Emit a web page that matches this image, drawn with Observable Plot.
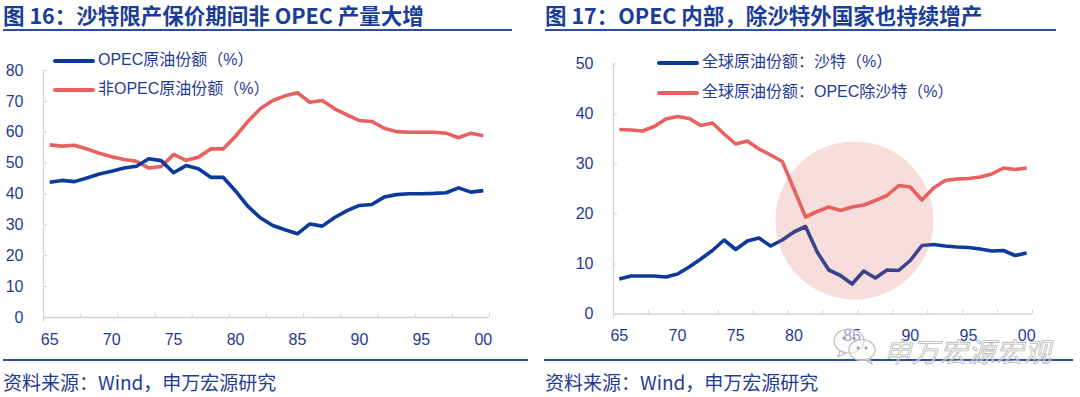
<!DOCTYPE html>
<html>
<head>
<meta charset="utf-8">
<script src="https://cdn.jsdelivr.net/npm/d3@7"></script>
<script src="https://cdn.jsdelivr.net/npm/@observablehq/plot@0.6"></script>
<style>
  html, body { margin: 0; padding: 0; background: #fff; }
  body { width: 1080px; height: 397px; position: relative; overflow: hidden;
         font-family: "Liberation Sans", "Noto Sans CJK SC", sans-serif; color: #1f3c94; }
  .title { position: absolute; top: 2px; font-family: "Noto Sans CJK SC", sans-serif; font-weight: 700;
           font-size: 21.5px; line-height: 26px; color: #1b3d96; white-space: nowrap; }
  .rule { position: absolute; height: 2px; background: #2a4ea6; }
  .foot { position: absolute; top: 369px; font-family: "Noto Sans CJK SC", sans-serif; font-size: 19px;
          line-height: 26px; color: #1f3c94; white-space: nowrap; }
  .chart { position: absolute; top: 50px; }
  .leg { position: absolute; font-size: 16px; line-height: 20px; color: #1f3c94; white-space: nowrap; }
  .leg .sw { position: absolute; width: 42px; height: 4px; border-radius: 2px; }
  .leg .tx { position: absolute; white-space: nowrap; }
  .wm { position: absolute; left: 884px; top: 331px; font-family: "Noto Sans CJK SC", sans-serif;
        font-size: 27px; font-style: italic; color: rgba(250,250,250,0.55); -webkit-text-stroke: 0.8px rgba(170,170,170,0.85);
        white-space: nowrap; letter-spacing: 1px; }
</style>
</head>
<body>
<div class="title" style="left:3px">图 16：沙特限产保价期间非 OPEC 产量大增</div>
<div class="rule" style="left:3px; top:29px; width:509px"></div>
<div class="title" style="left:545px">图 17：OPEC 内部，除沙特外国家也持续增产</div>
<div class="rule" style="left:545px; top:29px; width:511px"></div>

<div id="c1" class="chart" style="left:0px"></div>
<div id="c2" class="chart" style="left:540px"></div>

<div class="leg" style="left:0; top:0">
  <div class="sw" style="left:53px; top:59px; background:#0b3a9a"></div>
  <div class="tx" style="left:98px; top:50px">OPEC原油份额（%）</div>
  <div class="sw" style="left:53px; top:88px; background:#e8615f"></div>
  <div class="tx" style="left:98px; top:79px">非OPEC原油份额（%）</div>
</div>
<div class="leg" style="left:0; top:0">
  <div class="sw" style="left:657px; top:61px; background:#0b3a9a"></div>
  <div class="tx" style="left:702px; top:52px">全球原油份额：沙特（%）</div>
  <div class="sw" style="left:657px; top:91px; background:#e8615f"></div>
  <div class="tx" style="left:702px; top:82px">全球原油份额：OPEC除沙特（%）</div>
</div>

<div class="rule" style="left:3px; top:359px; width:525px; height:2px"></div>
<div class="rule" style="left:544px; top:359px; width:529px; height:2px"></div>
<div class="foot" style="left:3px">资料来源：Wind，申万宏源研究</div>
<div class="foot" style="left:545px">资料来源：Wind，申万宏源研究</div>

<svg style="position:absolute; left:832px; top:326px" width="50" height="40" viewBox="0 0 50 40">
  <g fill="#fafafa" fill-opacity="0.55" stroke="#bdbdbd" stroke-width="1.2">
    <ellipse cx="17" cy="15" rx="15" ry="12"/>
    <path d="M8 25 L6 31 L13 27 Z"/>
    <ellipse cx="30" cy="24" rx="13" ry="10.5"/>
    <path d="M37 32 L40 38 L33 34 Z"/>
  </g>
  <circle cx="12" cy="12" r="1.6" fill="#9a9a9a"/>
  <circle cx="22" cy="12" r="1.6" fill="#9a9a9a"/>
  <circle cx="26" cy="22" r="1.4" fill="#9a9a9a"/>
  <circle cx="34" cy="22" r="1.4" fill="#9a9a9a"/>
</svg>
<div class="wm">申万宏源宏观</div>

<script>
// ---------- Data ----------
const years = [1965,1966,1967,1968,1969,1970,1971,1972,1973,1974,
               1975,1976,1977,1978,1979,1980,1981,1982,1983,1984,
               1985,1986,1987,1988,1989,1990,1991,1992,1993,1994,
               1995,1996,1997,1998,1999,2000];

// Figure 16 (%)
const opecShare = [43.8,44.4,44.0,45.2,46.5,47.4,48.4,49.0,51.4,50.8,
                   46.9,49.2,48.2,45.4,45.4,41.0,36.0,32.3,29.8,28.4,
                   27.1,30.3,29.6,32.4,34.6,36.3,36.6,39.0,39.8,40.1,
                   40.1,40.2,40.4,42.0,40.6,41.1];
const nonOpecShare = [55.9,55.5,55.8,54.6,53.2,52.1,51.2,50.6,48.4,48.9,
                      52.8,50.9,51.9,54.6,54.6,58.7,63.5,67.6,70.3,71.8,
                      72.8,69.7,70.3,67.6,65.6,63.8,63.5,61.3,60.2,60.0,
                      60.0,60.0,59.7,58.2,59.7,58.9];

// Figure 17 (%)
const saudiShare = [7.0,7.6,7.6,7.6,7.4,8.0,9.4,11.0,12.7,14.8,
                    12.9,14.6,15.2,13.6,14.8,16.4,17.5,12.4,8.8,7.7,
                    6.0,8.6,7.2,8.8,8.7,10.7,13.7,13.9,13.6,13.4,
                    13.3,13.0,12.6,12.7,11.7,12.2];
const opecExSaudiShare = [36.9,36.8,36.6,37.5,39.0,39.5,39.1,37.7,38.2,36.0,
                          34.0,34.6,33.0,31.8,30.5,25.0,19.4,20.5,21.4,20.7,
                          21.4,21.8,22.7,23.7,25.7,25.4,22.8,25.2,26.7,27.0,
                          27.1,27.4,28.0,29.2,28.9,29.2];

// Axis ticks and labels
const xLabelYears = [1965,1970,1975,1980,1985,1990,1995,2000];
const xLabels = ["65","70","75","80","85","90","95","00"];
const xTickMarks = [1964.5,1967.5,1970.5,1973.5,1976.5,1979.5,1982.5,1985.5,1988.5,1991.5,1994.5,1997.5,2000.5];
const xDomain = [1964.5, 2000.5];
const yTicks16 = [0,10,20,30,40,50,60,70,80];
const yTicks17 = [0,10,20,30,40,50];

// Highlighted period (Figure 17)
const highlight = [{year: 1985.2, value: 18.7}];

// ---------- Styles ----------
const BLUE = "#0b3a9a", RED = "#e8615f", AXIS = "#d4d4d4", TXT = "#1f3c94";

function build(series, yDomain, yTicks, margins, extra = []) {
  const rows = [];
  series.forEach(s => s.values.forEach((v, i) => rows.push({year: years[i], value: v, key: s.key})));
  const labelMap = new Map(xLabelYears.map((y, i) => [y, xLabels[i]]));
  return Plot.plot({
    width: 540, height: 300,
    ...margins,
    style: {fontFamily: "Liberation Sans, Arial, sans-serif", fontSize: "16px", color: TXT, background: "transparent", overflow: "visible"},
    x: {domain: xDomain},
    y: {domain: yDomain},
    marks: [
      Plot.ruleY([0], {stroke: AXIS, strokeWidth: 1.3}),
      Plot.ruleX([xDomain[0]], {stroke: AXIS, strokeWidth: 1.3, insetBottom: -5}),
      Plot.axisY({ticks: yTicks, tickSize: -4, tickPadding: 24, stroke: AXIS, fill: TXT, label: null, tickFormat: d => String(d)}),
      Plot.axisX({ticks: xTickMarks, tickSize: -4, stroke: AXIS, tickFormat: () => "", label: null}),
      Plot.axisX({ticks: xLabelYears, tickSize: 0, tickPadding: 16, fill: TXT, label: null, tickFormat: d => labelMap.get(d)}),
      ...series.map(s => Plot.line(rows.filter(r => r.key === s.key), {x: "year", y: "value", stroke: s.color, strokeWidth: 3.6, strokeLinejoin: "round", strokeLinecap: "butt"})),
      ...extra
    ]
  });
}

const chart16 = build(
  [{key: "non", values: nonOpecShare, color: RED}, {key: "opec", values: opecShare, color: BLUE}],
  [0, 80], yTicks16,
  {marginLeft: 43, marginRight: 51, marginTop: 20, marginBottom: 33}
);
document.getElementById("c1").appendChild(chart16);

const chart17 = build(
  [{key: "ex", values: opecExSaudiShare, color: RED}, {key: "saudi", values: saudiShare, color: BLUE}],
  [0, 50], yTicks17,
  {marginLeft: 73, marginRight: 48, marginTop: 13.5, marginBottom: 36.5},
  [Plot.dot(highlight, {x: "year", y: "value", r: 79, fill: "#e06666", fillOpacity: 0.22, stroke: null})]
);
document.getElementById("c2").appendChild(chart17);
</script>
</body>
</html>
